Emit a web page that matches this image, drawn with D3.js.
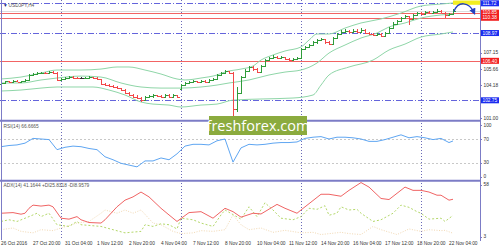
<!DOCTYPE html>
<html><head><meta charset="utf-8">
<script src="https://cdn.jsdelivr.net/npm/d3@7"></script>
<style>body{margin:0;background:#fff}svg{display:block}text{font-family:"Liberation Sans",Arial,sans-serif}</style>
</head><body><svg id="c" width="500" height="250"></svg>
<script>
// ---- DATA ----
const symbolTitle = "USDJPY,H4";
const opens  = [104.30,104.35,104.50,104.40,104.55,104.45,104.50,104.60,105.10,105.20,105.25,105.30,105.25,105.35,105.30,104.65,104.75,104.85,104.90,104.85,104.80,104.80,104.85,104.90,104.80,104.70,104.25,104.15,104.05,103.95,103.85,103.70,103.45,103.25,103.10,102.95,102.75,103.05,103.15,103.20,103.15,103.10,103.25,103.05,103.20,103.80,104.20,104.35,104.45,104.50,104.45,104.55,104.45,104.60,104.75,105.10,105.30,105.45,105.30,101.90,103.40,104.90,105.50,105.80,105.60,105.40,105.90,106.50,106.70,106.80,106.70,106.75,106.60,106.50,106.55,106.70,107.45,107.70,107.90,108.10,108.30,108.40,108.15,107.95,108.50,108.90,109.10,109.15,109.05,109.20,109.10,109.25,108.95,108.85,108.75,108.90,108.70,109.00,109.40,109.85,110.10,110.35,110.50,110.30,110.60,110.85,110.75,110.90,110.80,110.95,111.05,110.85,110.60,110.70];
const highs  = [104.42,104.55,104.55,104.60,104.62,104.58,104.70,105.15,105.30,105.35,105.40,105.38,105.48,105.45,105.40,104.85,104.95,105.00,104.98,104.95,104.90,104.95,105.00,104.95,104.88,104.75,104.35,104.25,104.15,104.05,103.90,103.75,103.55,103.30,103.20,103.05,103.15,103.25,103.30,103.28,103.25,103.35,103.30,103.30,103.28,104.30,104.45,104.55,104.60,104.58,104.65,104.60,104.70,104.85,105.20,105.40,105.55,105.50,105.35,103.95,105.00,105.60,105.95,105.90,105.70,106.00,106.60,106.80,106.90,106.85,106.85,106.80,106.70,106.65,106.75,107.60,107.80,108.00,108.20,108.40,108.55,108.45,108.25,108.60,109.00,109.25,109.30,109.25,109.35,109.30,109.40,109.30,109.05,108.95,109.00,108.95,109.10,109.50,109.95,110.20,110.45,110.60,110.55,110.70,110.95,110.95,111.00,110.98,111.05,111.20,111.10,110.90,110.80,111.15];
const lows   = [104.12,104.30,104.35,104.35,104.40,104.40,104.45,104.55,105.00,105.10,105.15,105.15,105.20,105.20,104.55,104.60,104.70,104.75,104.75,104.70,104.70,104.75,104.80,104.70,104.60,104.20,104.05,103.95,103.85,103.75,103.60,103.35,103.15,102.95,102.85,102.55,102.70,102.95,103.00,103.05,103.00,103.05,102.95,103.00,103.00,103.75,104.15,104.25,104.35,104.35,104.40,104.35,104.40,104.55,104.70,105.05,105.20,105.20,101.20,101.70,103.30,104.80,105.40,105.45,105.25,105.35,105.85,106.40,106.60,106.55,106.60,106.45,106.35,106.40,106.45,106.65,107.40,107.60,107.80,108.00,108.20,108.00,107.85,107.90,108.45,108.80,109.00,108.95,109.00,109.00,109.05,108.90,108.75,108.65,108.70,108.60,108.65,108.95,109.35,109.80,110.00,110.25,109.70,110.25,110.55,110.65,110.70,110.70,110.75,110.90,110.80,110.40,110.50,110.65];
const closes = [104.35,104.50,104.40,104.55,104.45,104.50,104.60,105.10,105.20,105.25,105.30,105.25,105.35,105.30,104.65,104.75,104.85,104.90,104.85,104.80,104.80,104.85,104.90,104.80,104.70,104.25,104.15,104.05,103.95,103.85,103.70,103.45,103.25,103.10,102.95,102.75,103.05,103.15,103.20,103.15,103.10,103.25,103.05,103.20,103.10,104.20,104.35,104.45,104.50,104.45,104.55,104.45,104.60,104.75,105.10,105.30,105.45,105.30,101.90,103.40,104.90,105.50,105.80,105.60,105.40,105.90,106.50,106.70,106.80,106.70,106.75,106.60,106.50,106.55,106.65,107.45,107.70,107.90,108.10,108.30,108.40,108.15,107.95,108.50,108.90,109.10,109.15,109.05,109.20,109.10,109.25,108.95,108.85,108.75,108.90,108.70,109.00,109.40,109.85,110.10,110.35,110.50,110.30,110.60,110.85,110.75,110.90,110.80,110.95,111.05,110.85,110.60,110.70,111.05];

const upperIdx = [0,5,10,14,20,25,29,32,36,40,44,46,50,54,56,60,63,65,68,71,75,77,79,82,86,90,95,100,105,110,113];
const upperBand = [104.72,104.90,105.27,105.55,105.55,105.64,105.83,105.83,105.55,105.18,104.72,104.63,104.81,105.09,105.37,105.64,105.92,106.47,106.94,107.31,107.68,108.32,108.88,108.88,109.43,109.90,110.27,110.82,111.47,111.65,111.75];
const middleIdx = [0,5,10,14,20,25,30,35,40,45,50,54,57,62,67,71,75,79,82,86,90,94,97,101,105,110,113];
const middleBand = [104.35,104.35,104.63,104.81,104.99,104.90,104.35,103.98,103.88,103.88,103.98,104.16,104.35,104.63,105.09,105.36,105.55,106.20,107.12,107.86,108.51,108.97,109.53,109.90,110.36,110.64,110.73];
const lowerIdx = [0,5,10,14,20,23,27,31,35,38,42,45,50,54,58,65,73,78,80,82,87,93,97,101,105,110,113];
const lowerBand = [103.61,103.70,103.88,103.98,103.98,103.98,103.70,103.24,102.59,102.40,102.31,102.13,102.31,102.40,102.77,102.87,102.96,103.24,104.16,105.09,105.83,106.47,107.40,107.95,108.60,108.88,109.07];

const levelPrices = [111.72,110.85,110.38,108.97,106.40,102.75];
const levelKinds  = ["blue","red","red","blue","red","blue"];
const priceTicks = [107.15,105.66,104.18,101.00];

const rsiIdx = [0,2,4,6,8,10,12,14,16,18,20,22,24,26,28,30,32,34,36,38,40,42,44,46,48,50,52,54,56,58,60,62,64,66,68,70,72,74,76,78,80,82,84,86,88,90,92,94,96,98,100,102,104,106,108,110,112,113];
const rsiVals = [57,59,60,63,71,70,69,52,56,58,57,54,52,40,35,29,26,23,33,33,38,35,45,58,61,61,60,67,70,31,55,61,60,61,63,64,64,65,71,73,74,70,73,73,72,70,66,66,69,73,77,72,74,72,69,71,64,66.67];
const rsiTicks = [100,70,30,0];
const rsiLevels = [70,30];

const adxIdx = [0,3,5,6,7,8,10,12,13,15,17,19,20,22,25,26,29,31,33,35,37,40,42,44,47,50,53,56,58,60,63,65,69,71,74,75,80,82,85,87,90,92,95,97,101,103,105,107,109,110,112,113];
const adxVals = [27.9,28.5,27,27.9,32.6,35.6,34.7,35.6,34,23.2,22.3,24.7,21.7,19.1,18.6,21.7,34,40.3,43.4,48,43.4,32.6,26.3,20.1,28.5,29.4,23.2,32.6,29.4,24.2,27.9,27.2,36.3,32.6,27.9,31,45.9,45.9,44,49.6,57,52.7,41.9,40.9,52.7,49.6,49.6,48,45,45,40.3,41.16];
const pdiIdx = [0,2,4,7,9,10,12,14,17,19,20,25,28,31,35,36,38,40,42,44,45,48,50,53,55,56,60,62,64,66,68,70,73,75,77,79,81,82,84,85,87,89,90,93,95,98,100,102,104,105,107,110,111,113];
const pdiVals = [20.1,21.7,20.1,24.7,27.9,24.7,27.9,17,15.4,20.1,17,15.4,12.3,9.3,10.7,17,15.4,17.9,17,13,23.2,21.7,18.6,15.4,26.3,31,22.3,34,24.7,37.8,31,23.2,21.7,24.7,32.6,31.6,35,26,28,34,31,31.6,27.9,20.1,21.7,27.9,35.6,33.5,29.4,27.9,22.3,23.2,20.1,25.83];
const mdiIdx = [0,3,5,8,10,13,15,19,22,25,26,29,31,33,35,38,40,43,45,48,50,53,56,58,60,62,65,68,71,75,78,80,85,87,90,93,95,99,102,105,107,110,111,113];
const mdiVals = [12.3,13.9,10.7,9.3,12.3,11.4,13.9,18.6,20.1,27.9,31,27.9,31,27.9,31,18.6,17,10.7,8.6,9.3,11.4,10.7,12.3,26.3,17,12.3,13.9,9.8,11.7,9.3,9.8,7.7,9.8,8.6,7.7,15.4,12.3,7.7,13,10.7,12.3,11.4,11.7,8.96];
const adxTicks = [58,3];

const dateLabels = ["26 Oct 2016","27 Oct 20:00","31 Oct 04:00","1 Nov 12:00","2 Nov 20:00","4 Nov 04:00","7 Nov 12:00","8 Nov 20:00","10 Nov 04:00","11 Nov 12:00","14 Nov 20:00","16 Nov 04:00","17 Nov 12:00","18 Nov 20:00","22 Nov 04:00"];
const dateLabelIdx = [0,8,16,24,32,40,48,56,64,72,80,88,96,104,112];
const weekStartIdx = [15,45,75,105];

const rsiTitle = "RSI(14) 66.6665";
const adxTitle = "ADX(14) 41.1644 +DI25.8318 -DI8.9579";
const watermark = "freshforex.com";

// ---- CHART ----
const svg = d3.select("#c");
const AX = 480;
const x = d3.scaleLinear().domain([0,113]).range([1,453]);
const yP = d3.scaleLinear().domain([102.75,111.72]).range([100.3,3.3]);
const yR = d3.scaleLinear().domain([0,100]).range([180.5,121.2]);
const yA = d3.scaleLinear().domain([3,58]).range([239.5,181.5]);

svg.append("rect").attr("width",500).attr("height",250).attr("fill","#fff");

// week separators
svg.selectAll(".wk").data(weekStartIdx).join("line")
  .attr("x1",d=>Math.round(x(d))+0.5).attr("x2",d=>Math.round(x(d))+0.5)
  .attr("y1",0).attr("y2",238).attr("stroke","#6a6ab8").attr("stroke-dasharray","1,2");

// level lines
svg.selectAll(".lvl").data(levelPrices).join("line")
  .attr("x1",0).attr("x2",AX).attr("y1",d=>Math.round(yP(d))+0.5).attr("y2",d=>Math.round(yP(d))+0.5)
  .attr("stroke",(d,i)=>levelKinds[i]==="red"?"#f26464":"#6464dc")
  .attr("stroke-dasharray",(d,i)=>levelKinds[i]==="red"?null:"6,2,1,2");

// bid line
svg.append("line").attr("x1",0).attr("x2",AX)
  .attr("y1",Math.round(yP(closes[closes.length-1]))+0.5).attr("y2",Math.round(yP(closes[closes.length-1]))+0.5)
  .attr("stroke","#dcdcdc");

// RSI levels
svg.selectAll(".rl").data(rsiLevels).join("line")
  .attr("x1",0).attr("x2",AX).attr("y1",d=>Math.round(yR(d))+0.5).attr("y2",d=>Math.round(yR(d))+0.5)
  .attr("stroke","#c8c8c8").attr("stroke-dasharray","2,2");

// Bands
const bandLine = (idx,vals)=>d3.line().x((d,i)=>x(idx[i])).y(d=>yP(d)).curve(d3.curveMonotoneX)(vals);
[[upperIdx,upperBand],[middleIdx,middleBand],[lowerIdx,lowerBand]].forEach(([idx,vals])=>{
  svg.append("path").attr("d",bandLine(idx,vals)).attr("fill","none").attr("stroke","#8fd6a8").attr("stroke-width",1);
});

// Bars
const bars = svg.append("g").attr("shape-rendering","crispEdges");
closes.forEach((c,i)=>{
  const o=opens[i], xc=Math.round(x(i))+0.5;
  const col = c>o ? "#2f9c3a" : (c<o ? "#f24848" : "#333");
  bars.append("line").attr("x1",xc).attr("x2",xc).attr("y1",yP(highs[i])).attr("y2",yP(lows[i])).attr("stroke",col);
  bars.append("line").attr("x1",xc-2).attr("x2",xc).attr("y1",Math.round(yP(o))+0.5).attr("y2",Math.round(yP(o))+0.5).attr("stroke",col);
  bars.append("line").attr("x1",xc).attr("x2",xc+2).attr("y1",Math.round(yP(c))+0.5).attr("y2",Math.round(yP(c))+0.5).attr("stroke",col);
});

// RSI line
svg.append("path").attr("d",d3.line().x((d,i)=>x(rsiIdx[i])).y(d=>yR(d))(rsiVals))
  .attr("fill","none").attr("stroke","#5fa6f2").attr("stroke-width",1);

// ADX lines
svg.append("path").attr("d",d3.line().x((d,i)=>x(mdiIdx[i])).y(d=>yA(d))(mdiVals))
  .attr("fill","none").attr("stroke","#f2d9b4").attr("stroke-width",1).attr("stroke-dasharray","1,1.5");
svg.append("path").attr("d",d3.line().x((d,i)=>x(pdiIdx[i])).y(d=>yA(d))(pdiVals))
  .attr("fill","none").attr("stroke","#b4d86a").attr("stroke-width",1).attr("stroke-dasharray","2,2");
svg.append("path").attr("d",d3.line().x((d,i)=>x(adxIdx[i])).y(d=>yA(d))(adxVals))
  .attr("fill","none").attr("stroke","#f06464").attr("stroke-width",1);

// yellow highlight + arrow
svg.append("rect").attr("x",x(113)).attr("y",0.5).attr("width",AX-x(113)).attr("height",4.3).attr("fill","#f2ee22");
svg.append("defs").append("marker").attr("id","ah").attr("viewBox","0 0 10 10").attr("refX",6).attr("refY",5)
  .attr("markerWidth",5).attr("markerHeight",5).attr("orient","auto")
  .append("path").attr("d","M0,0 L10,5 L0,10 z").attr("fill","#2440c0");
const lastX = x(113), lastY = yP(closes[113]);
svg.append("path").attr("d",`M${lastX+1},${lastY+1} C${lastX+5},${lastY-10} ${lastX+16},${lastY-9} ${lastX+21},${lastY+2}`)
  .attr("fill","none").attr("stroke","#2440c0").attr("stroke-width",1.3).attr("marker-end","url(#ah)");

// borders / separators
svg.append("line").attr("x1",1.5).attr("x2",1.5).attr("y1",0).attr("y2",240).attr("stroke","#7c7cc6");
svg.append("line").attr("x1",AX+0.5).attr("x2",AX+0.5).attr("y1",0).attr("y2",241).attr("stroke","#7c7cc6");
[120.7,180.7].forEach(yy=>svg.append("line").attr("x1",0).attr("x2",AX).attr("y1",yy).attr("y2",yy).attr("stroke","#7c7cc6").attr("stroke-width",2));

// right axis labels
const fs = 4.8;
const lab = (y,t)=>{
  svg.append("line").attr("x1",AX).attr("x2",AX+2).attr("y1",Math.round(y)+0.5).attr("y2",Math.round(y)+0.5).attr("stroke","#7c7cc6");
  svg.append("text").attr("x",AX+3.5).attr("y",y).attr("dy","0.35em").attr("font-size",fs).attr("fill","#333").text(t);
};
priceTicks.forEach(v=>lab(Math.min(yP(v),118),v.toFixed(2)));
rsiTicks.forEach(v=>lab(v===100?yR(v)+4:(v===0?yR(v)-4:yR(v)),String(v)));
adxTicks.forEach((v,i)=>lab(i===0?yA(v)+3:yA(v)-3,String(v)));

// level boxes
levelPrices.forEach((v,i)=>{
  const yy=yP(v);
  svg.append("rect").attr("x",AX+1).attr("y",yy-3).attr("width",18).attr("height",6)
    .attr("fill",levelKinds[i]==="red"?"#f22020":"#1a2cf0");
  svg.append("text").attr("x",AX+2.5).attr("y",yy).attr("dy","0.35em").attr("font-size",fs).attr("fill","#fff").text(v.toFixed(2));
});

// titles
svg.append("text").attr("x",3).attr("y",5).attr("dy","0.35em").attr("font-size",fs).attr("fill","#1a2a8a").text("▼");
svg.append("text").attr("x",8.5).attr("y",5).attr("dy","0.35em").attr("font-size",fs).attr("fill","#555").text(symbolTitle);
svg.append("text").attr("x",3.5).attr("y",126.5).attr("dy","0.35em").attr("font-size",fs).attr("fill","#555").text(rsiTitle);
svg.append("text").attr("x",3.5).attr("y",185.5).attr("dy","0.35em").attr("font-size",fs).attr("fill","#555").text(adxTitle);

// date labels
svg.selectAll(".dl").data(dateLabels).join("text")
  .attr("x",(d,i)=>x(dateLabelIdx[i])).attr("y",243.5).attr("dy","0.35em").attr("font-size",fs).attr("fill","#333").text(d=>d);

// watermark
svg.append("rect").attr("x",209).attr("y",116).attr("width",98).attr("height",19).attr("fill","#8bab3e");
svg.append("text").attr("x",258).attr("y",125.8).attr("dy","0.36em").attr("text-anchor","middle")
  .attr("font-size",14.5).attr("fill","#fff").style("font-family","'Open Sans',sans-serif").text(watermark);
</script></body></html>
